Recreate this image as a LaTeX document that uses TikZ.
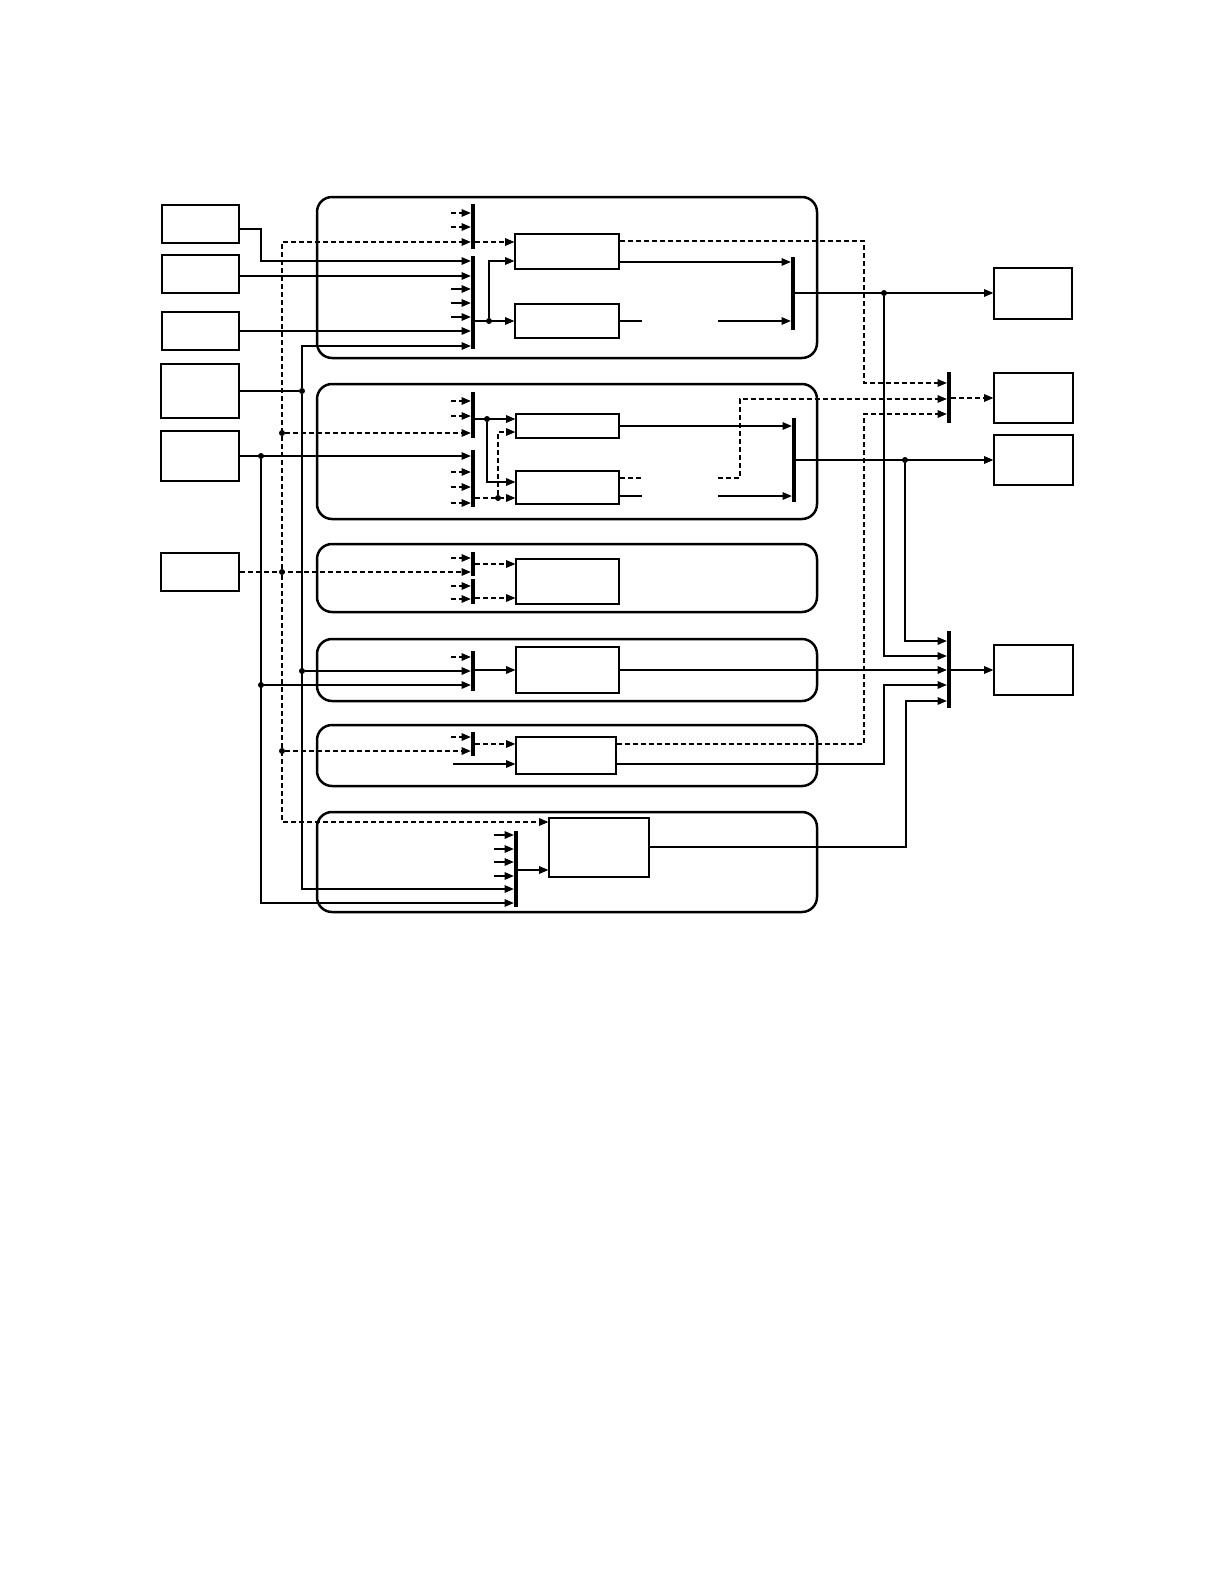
\documentclass[tikz,border=0pt]{standalone}
\usetikzlibrary{arrows.meta,positioning,calc,fit}

\begin{document}
\begin{tikzpicture}[
  x=0.5pt, y=-0.5pt,
  >={Triangle[length=4.6pt,width=3.8pt]},
  blk/.style={draw,line width=0.65pt,inner sep=0pt},
  grp/.style={draw,line width=1.25pt,rounded corners=7.5pt,inner sep=0pt},
  bus/.style={fill=black,inner xsep=0.9pt,inner ysep=0pt},
  dot/.style={circle,fill=black,inner sep=0pt,minimum size=3pt},
  sig/.style={->,line width=0.55pt},
  dsig/.style={sig,dash pattern=on 2.5pt off 1.5pt},
  wire/.style={line width=0.55pt},
  dwire/.style={wire,dash pattern=on 2.5pt off 1.5pt}
]
\useasboundingbox (0,0) rectangle (1224,1584);

% subsystems
\node[grp,fit={(317,197) (817,358)}] (g1) {};
\node[grp,fit={(317,384) (817,519)}] (g2) {};
\node[grp,fit={(317,544) (817,612)}] (g3) {};
\node[grp,fit={(317,639) (817,701)}] (g4) {};
\node[grp,fit={(317,725) (817,786)}] (g5) {};
\node[grp,fit={(317,812) (817,912)}] (g6) {};

% sources
\node[blk,fit={(162,205) (239,243)}] (srcA) {};
\node[blk,fit={(162,255) (239,293)}] (srcB) {};
\node[blk,fit={(162,312) (239,350)}] (srcC) {};
\node[blk,fit={(161,364) (239,418)}] (srcD) {};
\node[blk,fit={(161,431) (239,481)}] (srcE) {};
\node[blk,fit={(161,553) (239,591)}] (srcF) {};

% inner blocks
\node[blk,fit={(515,234) (619,269)}] (blk1) {};
\node[blk,fit={(515,304) (619,338)}] (blk2) {};
\node[blk,fit={(516,414) (619,438)}] (blk3) {};
\node[blk,fit={(516,471) (619,504)}] (blk4) {};
\node[blk,fit={(516,559) (619,604)}] (blk5) {};
\node[blk,fit={(516,647) (619,693)}] (blk6) {};
\node[blk,fit={(516,737) (616,774)}] (blk7) {};
\node[blk,fit={(549,818) (649,877)}] (blk8) {};

% outputs
\node[blk,fit={(994,268) (1072,319)}] (outG) {};
\node[blk,fit={(994,373) (1073,423)}] (outH) {};
\node[blk,fit={(994,435) (1073,485)}] (outI) {};
\node[blk,fit={(994,645) (1073,695)}] (outJ) {};

% buses
\node[bus,fit={(473,204) (473,249)}] (b1a) {};
\node[bus,fit={(473,256) (473,349)}] (b1b) {};
\node[bus,fit={(793,257) (793,330)}] (b1c) {};
\node[bus,fit={(473,392) (473,438)}] (b2a) {};
\node[bus,fit={(473,450) (473,507)}] (b2b) {};
\node[bus,fit={(794,418) (794,502)}] (b2c) {};
\node[bus,fit={(473,552) (473,576)}] (b3a) {};
\node[bus,fit={(473,579) (473,604)}] (b3b) {};
\node[bus,fit={(473,651) (473,691)}] (b4) {};
\node[bus,fit={(473,732) (473,756)}] (b5) {};
\node[bus,fit={(516,831) (516,907)}] (b6) {};
\node[bus,fit={(949,372) (949,423)}] (mH) {};
\node[bus,fit={(949,631) (949,708)}] (mJ) {};

% junctions
\node[dot] (jD) at (302,391) {};
\node[dot] (jD4) at (302,671) {};
\node[dot] (jE) at (261,456) {};
\node[dot] (jE4) at (261,685) {};
\node[dot] (jF) at (282,572) {};
\node[dot] (jF2) at (282,433) {};
\node[dot] (jF5) at (282,751) {};
\node[dot] (j1) at (489,321) {};
\node[dot] (j2a) at (487,419) {};
\node[dot] (j2b) at (498,498) {};
\node[dot] (jG) at (884,293) {};
\node[dot] (jI) at (905,460) {};

% open bus inputs
\foreach \y in {213,227} \draw[dsig] ($(b1a.west|-0,\y)+(-20,0)$) -- (b1a.west|-0,\y);
\foreach \y in {289,303,317} \draw[sig] ($(b1b.west|-0,\y)+(-20,0)$) -- (b1b.west|-0,\y);
\foreach \y in {401,416} \draw[dsig] ($(b2a.west|-0,\y)+(-20,0)$) -- (b2a.west|-0,\y);
\foreach \y in {472,487,503} \draw[dsig] ($(b2b.west|-0,\y)+(-20,0)$) -- (b2b.west|-0,\y);
\foreach \y in {558} \draw[dsig] ($(b3a.west|-0,\y)+(-20,0)$) -- (b3a.west|-0,\y);
\foreach \y in {586,599} \draw[dsig] ($(b3b.west|-0,\y)+(-20,0)$) -- (b3b.west|-0,\y);
\foreach \y in {657} \draw[dsig] ($(b4.west|-0,\y)+(-20,0)$) -- (b4.west|-0,\y);
\foreach \y in {737} \draw[dsig] ($(b5.west|-0,\y)+(-20,0)$) -- (b5.west|-0,\y);
\foreach \y in {835,849,862,876} \draw[sig] ($(b6.west|-0,\y)+(-20,0)$) -- (b6.west|-0,\y);
\draw[sig] ($(blk7.west|-0,764)+(-62,0)$) -- (blk7.west|-0,764);

% sources to subsystems
\draw[sig] (srcA.east|-0,229) -| (261,261) -- (b1b.west|-0,261);
\draw[sig] (srcB.east|-0,276) -- (b1b.west|-0,276);
\draw[sig] (srcC.east) -- (srcC.east-|b1b.west);
\draw[wire] (srcD.east) -- (jD);
\draw[sig] (jD) |- (b1b.west|-0,346);
\draw[sig] (jD) |- (b6.west|-0,889);
\draw[sig] (jD4) -- (jD4-|b4.west);
\draw[sig] (srcE.east) -- (srcE.east-|b2b.west);
\draw[sig] (jE) |- (b6.west|-0,903);
\draw[sig] (jE4) -- (jE4-|b4.west);
\draw[dsig] (srcF.east) -- (srcF.east-|b3a.west);
\draw[dsig] (jF) |- (b1a.west|-0,242);
\draw[dsig] (jF) |- (blk8.west|-0,822);
\draw[dsig] (jF2) -- (jF2-|b2a.west);
\draw[dsig] (jF5) -- (jF5-|b5.west);

% subsystem 1
\draw[dsig] (b1a.east|-0,242) -- (blk1.west|-0,242);
\draw[sig] (b1b.east|-j1) -- (j1-|blk2.west);
\draw[sig] (j1) |- (blk1.west|-0,261);
\draw[sig] (blk1.east|-0,262) -- (b1c.west|-0,262);
\coordinate (cut1a) at (642,321);
\coordinate (cut1b) at (718,321);
\draw[wire] (blk2.east|-cut1a) -- (cut1a);
\draw[sig] (cut1b) -- (cut1b-|b1c.west);
\draw[sig] (b1c.east|-jG) -- (jG-|outG.west);
\draw[dsig] (blk1.east|-0,241) -| (864,383) -- (mH.west|-0,383);
\draw[sig] (jG) |- (mJ.west|-0,656);

% subsystem 2
\draw[sig] (b2a.east|-j2a) -- (j2a-|blk3.west);
\draw[sig] (j2a) |- (blk4.west|-0,482);
\draw[dsig] (b2b.east|-j2b) -- (j2b-|blk4.west);
\draw[dsig] (j2b) |- (blk3.west|-0,432);
\draw[sig] (blk3.east) -- (blk3.east-|b2c.west);
\coordinate (cut2a) at (642,478);
\coordinate (cut2b) at (718,478);
\coordinate (cut2c) at (642,496);
\coordinate (cut2d) at (718,496);
\draw[dwire] (blk4.east|-cut2a) -- (cut2a);
\draw[dsig] (cut2b) -- (740,478) |- (mH.west|-0,399);
\draw[wire] (blk4.east|-cut2c) -- (cut2c);
\draw[sig] (cut2d) -- (cut2d-|b2c.west);
\draw[sig] (b2c.east|-jI) -- (jI-|outI.west);
\draw[sig] (jI) |- (mJ.west|-0,641);
\draw[dsig] (mH.east|-outH) -- (outH.west);

% subsystems 3 to 6
\draw[dsig] (b3a.east|-0,564) -- (blk5.west|-0,564);
\draw[dsig] (b3b.east|-0,598) -- (blk5.west|-0,598);
\draw[sig] (b4.east|-blk6) -- (blk6.west);
\draw[sig] (blk6.east) -- (blk6.east-|mJ.west);
\draw[dsig] (b5.east|-0,744) -- (blk7.west|-0,744);
\draw[dsig] (blk7.east|-0,744) -| (864,414) -- (mH.west|-0,414);
\draw[sig] (blk7.east|-0,764) -| (884,685) -- (mJ.west|-0,685);
\draw[sig] (b6.east|-0,870) -- (blk8.west|-0,870);
\draw[sig] (blk8.east|-0,847) -| (906,701) -- (mJ.west|-0,701);
\draw[sig] (mJ.east|-outJ) -- (outJ.west);
\end{tikzpicture}
\end{document}
